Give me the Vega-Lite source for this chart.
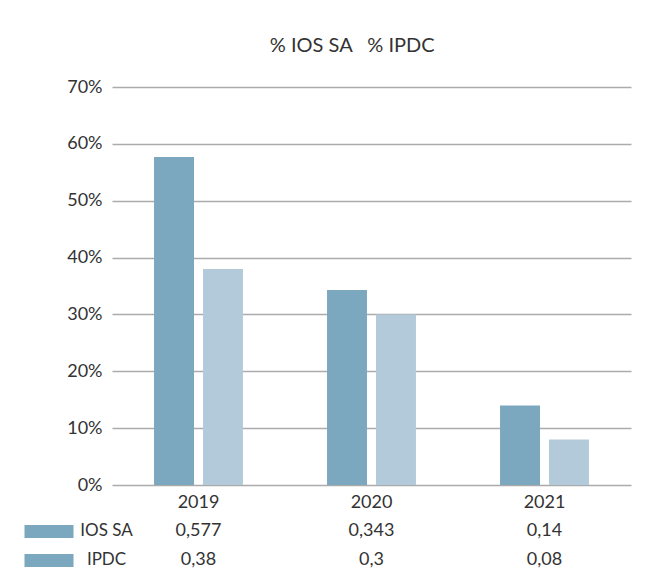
{
  "$schema": "https://vega.github.io/schema/vega-lite/v6.json",
  "padding": {"left": 17, "top": 36, "right": 14, "bottom": 5},
  "background": "white",
  "title": {"text": "% IOS SA\u00a0\u00a0\u00a0% IPDC", "fontSize": 20, "font": "Lato", "fontWeight": "normal", "color": "#333333", "anchor": "middle", "offset": 22, "dx": 28},
  "data": {"values": [
    {"year": "2019", "series": "IOS SA", "value": 0.577},
    {"year": "2019", "series": "IPDC", "value": 0.38},
    {"year": "2020", "series": "IOS SA", "value": 0.343},
    {"year": "2020", "series": "IPDC", "value": 0.3},
    {"year": "2021", "series": "IOS SA", "value": 0.14},
    {"year": "2021", "series": "IPDC", "value": 0.08}
  ]},
  "spacing": 5,
  "vconcat": [
    {
      "width": 519,
      "height": 398,
      "mark": {"type": "bar"},
      "encoding": {
        "x": {"field": "year", "type": "nominal",
          "scale": {"paddingInner": 0.486, "paddingOuter": 0.243},
          "axis": {"title": null, "labelAngle": 0, "ticks": false, "domain": false, "labelPadding": 8}},
        "xOffset": {"field": "series", "type": "nominal", "sort": ["IOS SA", "IPDC"],
          "scale": {"paddingInner": 0.184, "paddingOuter": 0}},
        "y": {"field": "value", "type": "quantitative",
          "scale": {"domain": [0, 0.7], "nice": false},
          "axis": {"title": null, "format": ".0%", "values": [0, 0.1, 0.2, 0.3, 0.4, 0.5, 0.6, 0.7], "ticks": false, "domain": false, "labelPadding": 10, "grid": true, "gridColor": "#ababab", "gridWidth": 1.5}},
        "color": {"field": "series", "type": "nominal", "sort": ["IOS SA", "IPDC"],
          "scale": {"range": ["#7ba7bf", "#b3cada"]}, "legend": null}
      }
    },
    {
      "width": 519,
      "height": 58,
      "mark": {"type": "text", "fontSize": 18, "font": "Lato", "color": "#333333"},
      "encoding": {
        "x": {"field": "year", "type": "nominal",
          "scale": {"paddingInner": 0.486, "paddingOuter": 0.243}, "axis": null},
        "y": {"field": "series", "type": "nominal", "sort": ["IOS SA", "IPDC"],
          "scale": {"paddingInner": 0, "paddingOuter": 0},
          "axis": {"title": null, "domain": false, "ticks": true, "tickSize": 49, "tickWidth": 13, "tickColor": "#7ba7bf", "offset": 39, "labelPadding": -82, "labelAlign": "center", "labelFontSize": 17, "grid": false}},
        "text": {"field": "value", "type": "quantitative", "format": ".3~f"}
      }
    }
  ],
  "resolve": {"scale": {"x": "independent", "y": "independent"}},
  "config": {
    "locale": {"number": {"decimal": ",", "thousands": ".", "grouping": [3], "currency": ["", " €"]}},
    "font": "Lato",
    "view": {"stroke": null},
    "axis": {"labelFont": "Lato", "labelFontSize": 18, "labelColor": "#333333"}
  }
}
